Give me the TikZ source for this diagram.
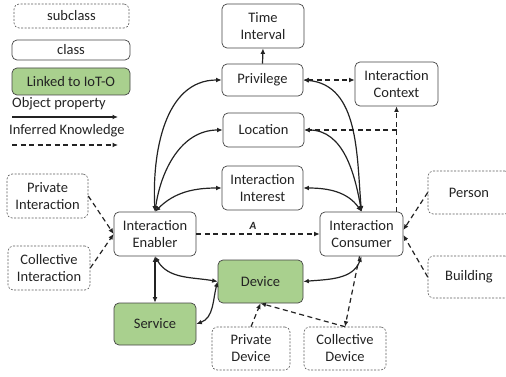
\documentclass[tikz,border=0pt]{standalone}
\usepackage{fontspec}
\setmainfont{Carlito}
\usetikzlibrary{arrows.meta}
\definecolor{iotgreen}{RGB}{169,208,142}
\definecolor{ink}{RGB}{35,35,35}
\begin{document}
\begin{tikzpicture}[x=1pt,y=-1pt,
 every node/.style={font=\fontsize{14.5}{17}\selectfont, text=ink, align=center, inner sep=0pt},
 cls/.style={draw=ink!85, line width=0.7pt, rounded corners=5pt, fill=white},
 sub/.style={draw=ink!75, line width=0.6pt, dash pattern=on 2pt off 1.5pt, rounded corners=5pt},
 iot/.style={cls, fill=iotgreen},
 tip/.tip={Latex[length=5.5pt,width=4.8pt]},
 obj/.style={line width=1.2pt, draw=ink, -tip},
 bobj/.style={obj, tip-tip},
 inf/.style={obj, dash pattern=on 5pt off 3.5pt},
 binf/.style={bobj, dash pattern=on 5pt off 3.5pt},
]
\useasboundingbox (0,0) rectangle (506,377);

% legend
\node[sub, minimum width=115pt, minimum height=24pt] (lsub) at (71.5,16) {subclass};
\node[cls, minimum width=118pt, minimum height=20pt] (lcls) at (71,50) {class};
\node[iot, minimum width=118pt, minimum height=27pt] (liot) at (71,81.5) {Linked to IoT-O};
\node[anchor=west] (lobj) at (12,104) {Object property};
\node[anchor=west] (linf) at (9,131) {Inferred Knowledge};
\coordinate (lo1) at (12,117); \coordinate (lo2) at (118,117);
\coordinate (li1) at (12,145); \coordinate (li2) at (118,145);
\draw[obj] (lo1) -- (lo2);
\draw[inf] (li1) -- (li2);

% class nodes
\node[cls, minimum width=82pt, minimum height=44pt] (ti) at (263,26) {Time\\Interval};
\node[cls, minimum width=81pt, minimum height=32pt] (pr) at (262.5,80) {Privilege};
\node[cls, minimum width=83pt, minimum height=44pt] (ctx) at (396.5,84) {Interaction\\Context};
\node[cls, minimum width=81pt, minimum height=34pt] (lo) at (263.5,130) {Location};
\node[cls, minimum width=81pt, minimum height=44pt] (ii) at (262.5,188) {Interaction\\Interest};
\node[cls, minimum width=82pt, minimum height=44pt] (en) at (155,234) {Interaction\\Enabler};
\node[cls, minimum width=83pt, minimum height=44pt] (co) at (361.5,234) {Interaction\\Consumer};
\node[iot, minimum width=85pt, minimum height=43pt] (dev) at (260.5,281.5) {Device};
\node[iot, minimum width=82pt, minimum height=42pt] (sv) at (155,324) {Service};

% subclass nodes
\node[sub, minimum width=81pt, minimum height=44pt] (pi) at (47.5,196) {Private\\Interaction};
\node[sub, minimum width=82pt, minimum height=44pt] (ci) at (49,268) {Collective\\Interaction};
\node[sub, minimum width=82pt, minimum height=43pt] (pe) at (469,192.5) {Person};
\node[sub, minimum width=82pt, minimum height=42pt] (bu) at (469,277) {Building};
\node[sub, minimum width=78pt, minimum height=43pt] (pd) at (251,348.5) {Private\\Device};
\node[sub, minimum width=82pt, minimum height=43pt] (cd) at (345,348.5) {Collective\\Device};

% object properties
\draw[obj] (pr.north) -- (ti.south);
\draw[bobj] (en.north) to[out=93,in=180] (pr.west);
\draw[bobj] (en.north) to[out=82,in=180] (lo.west);
\draw[bobj] (en.north) to[out=45,in=180] (ii.west);
\draw[bobj] (co.north) to[out=95,in=-5] (pr.east);
\draw[bobj] (co.north) to[out=100,in=0] (lo.east);
\draw[bobj] (co.north) to[out=125,in=0] (ii.east);
\draw[bobj] (en.south) -- (sv.north);
\draw[bobj] (en.south) to[out=-60,in=170] (dev.west);
\draw[bobj] (sv.east) to[out=20,in=-105] (dev.west);
\draw[bobj] (co.south) to[out=-110,in=5] (dev.east);

% inferred knowledge
\draw[binf] (pr.east) -- (pr.east -| ctx.west);
\draw[inf] (ctx.south |- co.north) -- (ctx.south);
\draw[inf] (ctx.south |- lo.east) -- (lo.east);
\draw[inf] (en.east) -- node[pos=0.46, above=4pt, font=\fontsize{11}{12}\selectfont\bfseries\itshape] (alab) {A} (co.west);
\draw[inf] (pi.east) -- (en.west);
\draw[inf] (ci.east) -- (en.west);
\draw[inf] (pe.west) -- ([yshift=4pt]co.east);
\draw[inf] (bu.west) -- ([yshift=-1pt]co.east);
\draw[inf] (pd.north) -- (dev.south);
\draw[inf] (cd.north) -- (dev.south);
\draw[inf] ([xshift=-2pt]co.south) -- (cd.north);
\end{tikzpicture}
\end{document}
